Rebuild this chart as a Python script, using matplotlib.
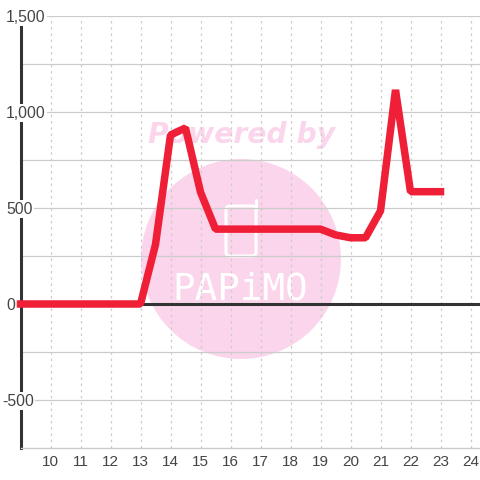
import matplotlib
matplotlib.use('Agg')
import matplotlib.pyplot as plt
from matplotlib.patches import Circle, FancyBboxPatch

plt.rcParams['font.family'] = ['Liberation Sans', 'DejaVu Sans']

hours = [9, 9.5, 10, 10.5, 11, 11.5, 12, 12.5, 13, 13.5, 14, 14.5, 15, 15.5, 16, 16.5,
         17, 17.5, 18, 18.5, 19, 19.5, 20, 20.5, 21, 21.5, 22, 22.5, 23]
values = [0, 0, 0, 0, 0, 0, 0, 0, 0, 310, 880, 917, 583, 390, 390, 390,
          390, 390, 390, 390, 390, 360, 345, 345, 485, 1115, 585, 585, 585]
x_ticks = list(range(10, 25))
y_major = [1500, 1000, 500, 0, -500]
y_labels = ['1,500', '1,000', '500', '0', '-500']
y_minor = [1250, 750, 250, -250]

RED = '#ef1f37'
DARK = '#333333'
GRID = '#cccccc'
PINK = '#fbd5ec'
TEXT = '#444444'

fig = plt.figure(figsize=(4.8, 4.8), dpi=100)

# watermark sits behind the chart, in pixel coordinates
bg = fig.add_axes([0, 0, 1, 1], zorder=0)
bg.set_xlim(0, 480)
bg.set_ylim(480, 0)
bg.axis('off')
bg.add_patch(Circle((241, 259), 100, color=PINK, lw=0))
bg.add_patch(FancyBboxPatch((226, 206), 30, 50, boxstyle='round,pad=0,rounding_size=4',
                            fc='none', ec='white', lw=2.2))
bg.plot([256, 256], [200, 210], color='white', lw=2.2, solid_capstyle='round')
bg.text(241.5, 135, 'Powered by', color=PINK, fontsize=20.3, fontweight='bold', fontstyle='italic',
        family='DejaVu Sans', ha='center', va='center')
bg.text(240, 289, 'PAPiMO', color='white', fontsize=27, family='DejaVu Sans Mono',
        ha='center', va='center')

ax = fig.add_axes([20.5 / 480, 32 / 480, 459.5 / 480, 432 / 480], zorder=1)
ax.patch.set_visible(False)
ax.set_xlim(9, 9 + 459.5 / 30)
ax.set_ylim(-750, 1500)

ax.set_xticks(x_ticks)
ax.set_yticks(y_major)
ax.set_yticks(y_minor, minor=True)
ax.set_yticklabels([])
ax.tick_params(axis='both', which='both', length=0)
ax.tick_params(axis='x', labelsize=11, labelcolor=TEXT, pad=5)
ax.set_axisbelow(True)
ax.grid(axis='y', which='both', color=GRID, lw=0.9)
ax.grid(axis='x', color=GRID, lw=0.9, linestyle=(0, (2, 3)))

for side in ['top', 'right']:
    ax.spines[side].set_visible(False)
ax.spines['bottom'].set_color(GRID)
ax.spines['bottom'].set_linewidth(1)
ax.spines['left'].set_color(DARK)
ax.spines['left'].set_linewidth(2.2)

ax.axhline(0, color=DARK, lw=2.2, zorder=2)
ax.plot(hours, values, color=RED, lw=5.4, solid_joinstyle='bevel', solid_capstyle='projecting',
        zorder=3, clip_on=False)

# y labels start at a fixed pixel and mask the axis behind them
for val, lab in zip(y_major, y_labels):
    left = 2 if val < 0 else 6
    ax.annotate(lab, xy=(0, val), xycoords=('axes fraction', 'data'), xytext=(left - 20.5, -1),
                textcoords='offset pixels', ha='left', va='center', fontsize=11.3, color=TEXT,
                zorder=4, annotation_clip=False,
                bbox=dict(fc='white', ec='none', pad=1))

fig.savefig('out.png', dpi=100)
